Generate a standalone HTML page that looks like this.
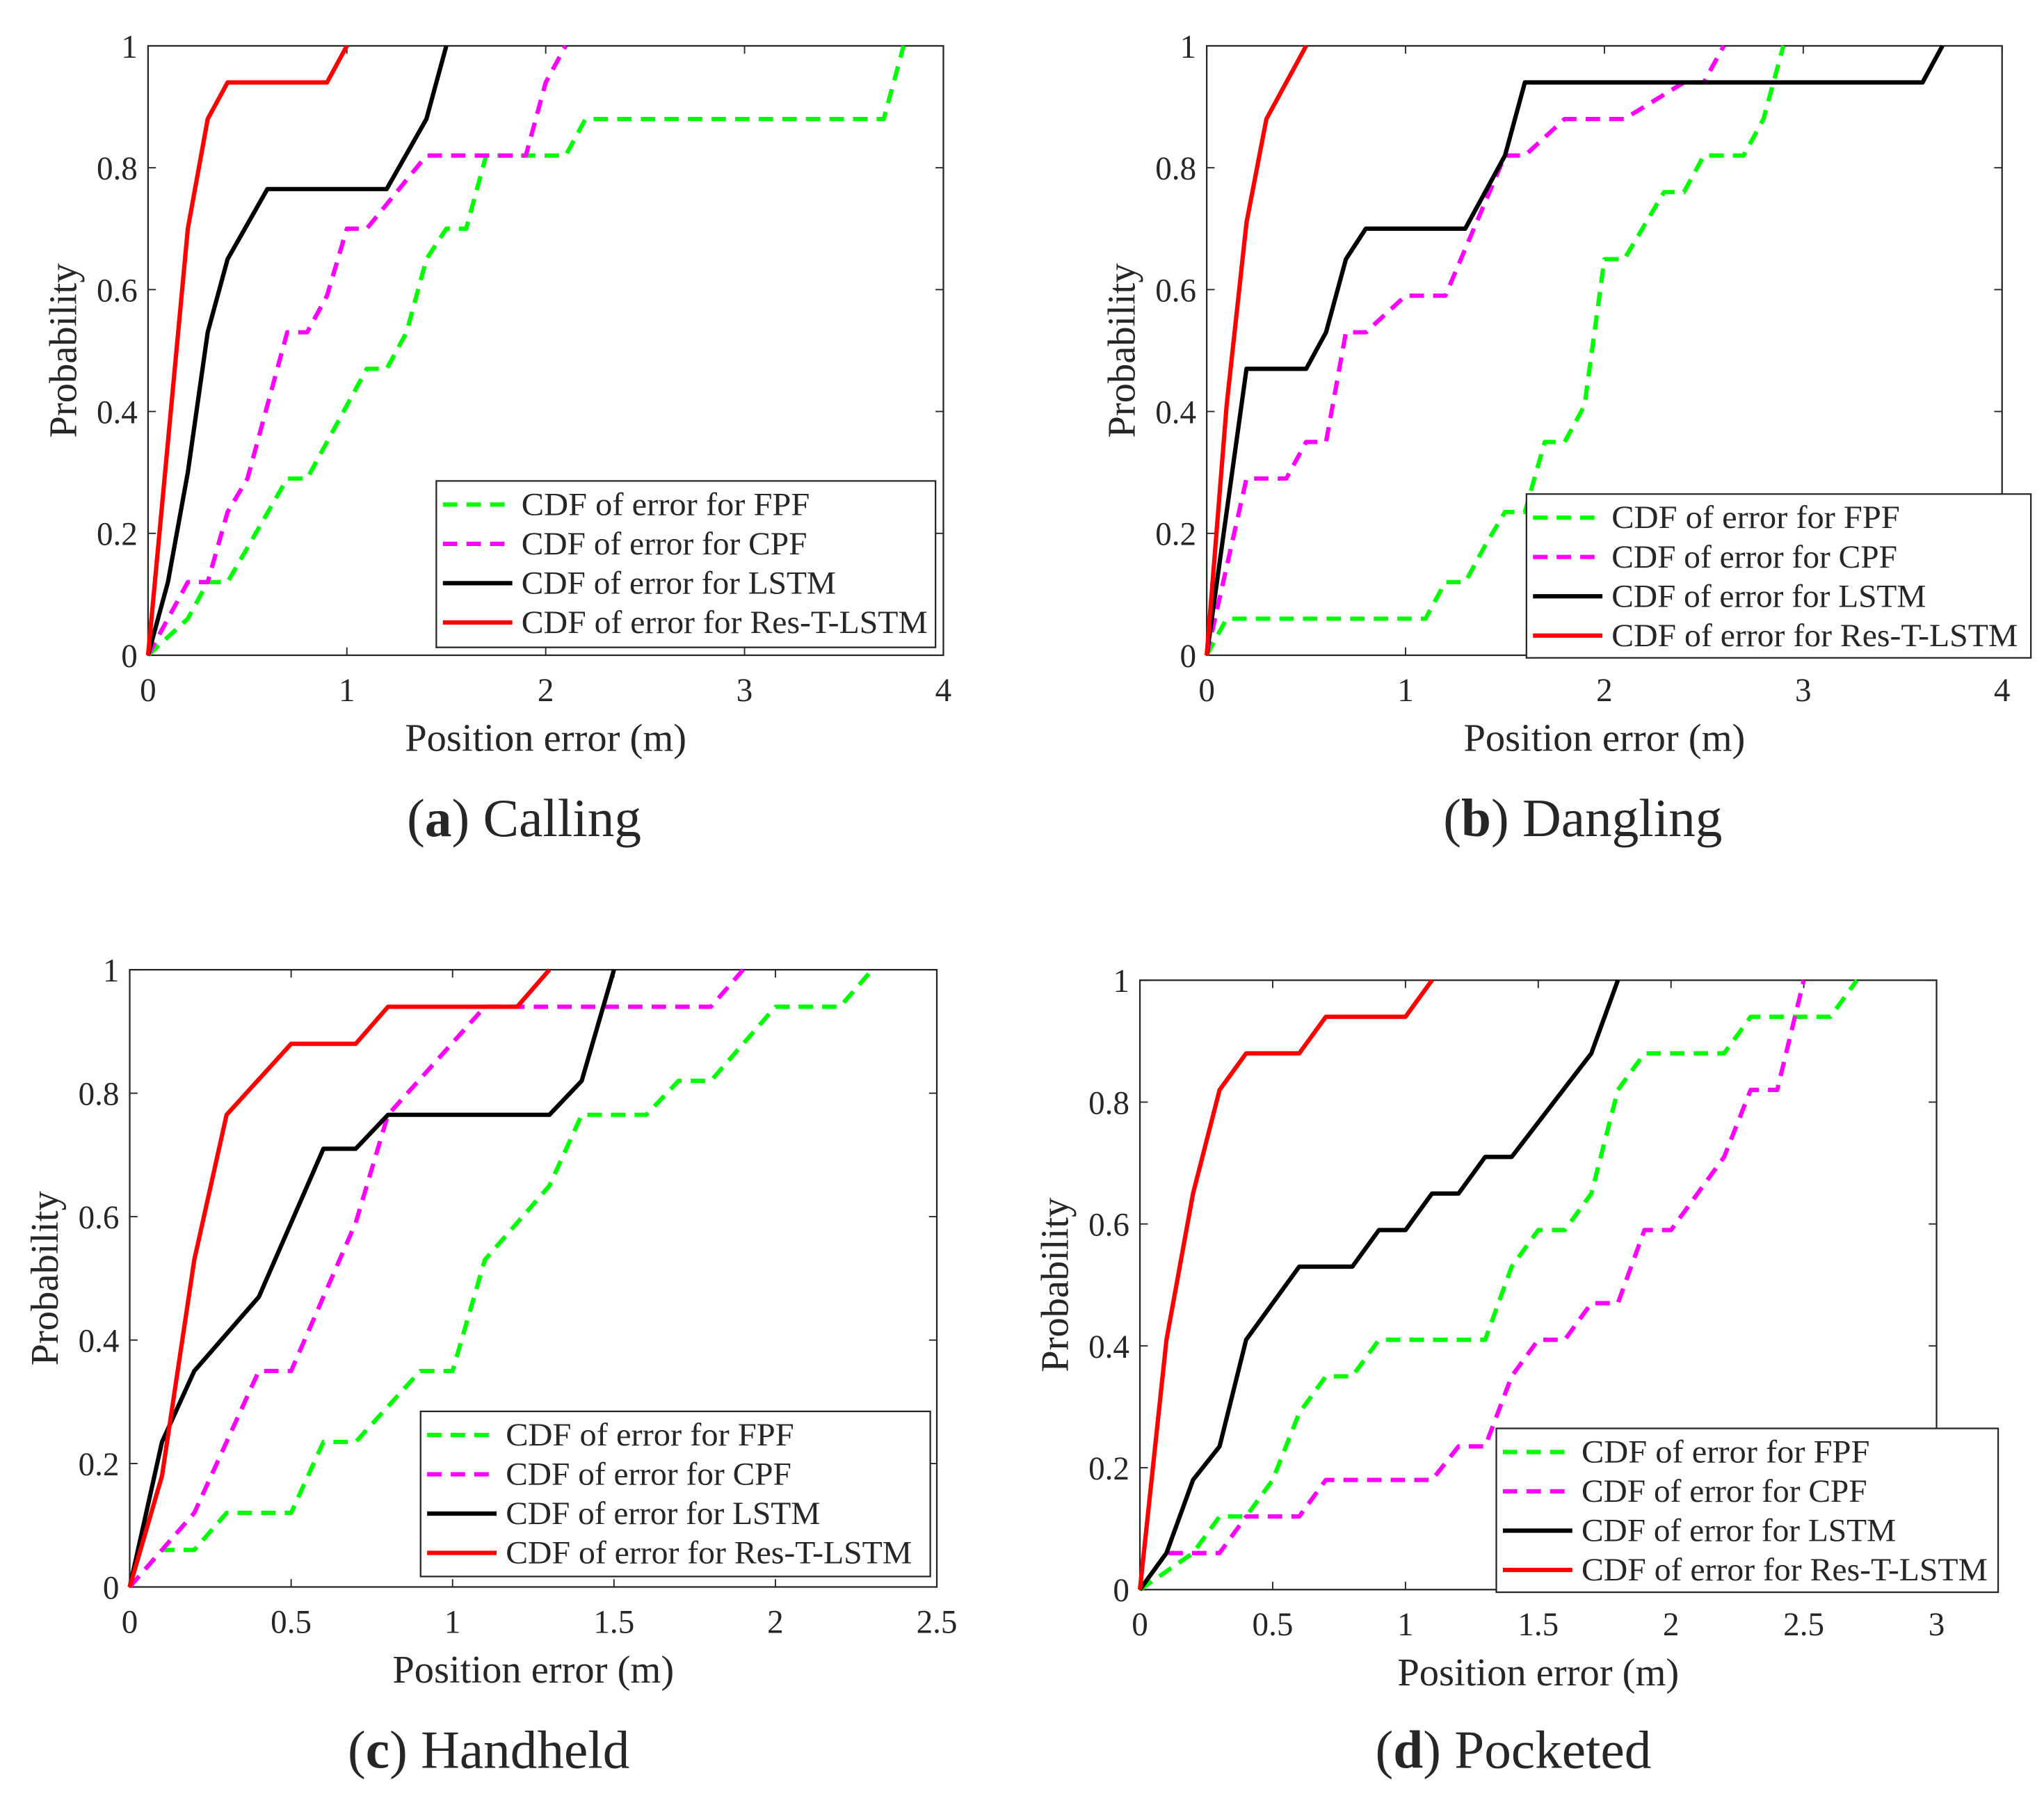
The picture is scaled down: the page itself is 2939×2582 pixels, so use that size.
<!DOCTYPE html>
<html><head><meta charset="utf-8"><style>
html,body{margin:0;padding:0;background:#fff}
svg{display:block}
text{font-family:"Liberation Serif",serif;fill:#262626}
</style></head><body>
<svg id="chart" width="2939" height="2582" viewBox="0 0 1560 1370.5" preserveAspectRatio="none" xmlns="http://www.w3.org/2000/svg"></svg>
<script>
const seriesNames=["CDF of error for FPF","CDF of error for CPF","CDF of error for LSTM","CDF of error for Res-T-LSTM"];
const seriesColors=["#00ff00","#ff00ff","#000000","#ff0000"];
const yTicks=[0,0.2,0.4,0.6,0.8,1];
const captionsBold=["a","b","c","d"];
const captionsText=["Calling","Dangling","Handheld","Pocketed"];
const xTicksA=[0,1,2,3,4];
const xTicksC=[0,0.5,1,1.5,2,2.5];
const xTicksD=[0,0.5,1,1.5,2,2.5,3];
// panel a
const aFPF=[[0,0],[0.2,0.06],[0.3,0.12],[0.4,0.12],[0.7,0.29],[0.8,0.29],[1.1,0.47],[1.2,0.47],[1.3,0.53],[1.4,0.65],[1.5,0.7],[1.6,0.7],[1.7,0.82],[2.1,0.82],[2.2,0.88],[3.7,0.88],[3.8,1]];
const aCPF=[[0,0],[0.2,0.12],[0.3,0.12],[0.4,0.235],[0.5,0.29],[0.7,0.53],[0.8,0.53],[0.9,0.59],[1.0,0.7],[1.1,0.7],[1.4,0.82],[1.9,0.82],[2.0,0.94],[2.1,1]];
const aLSTM=[[0,0],[0.1,0.12],[0.2,0.3],[0.3,0.53],[0.4,0.65],[0.6,0.765],[1.2,0.765],[1.4,0.88],[1.5,1]];
const aRes=[[0,0],[0.1,0.35],[0.2,0.7],[0.3,0.88],[0.4,0.94],[0.9,0.94],[1.0,1]];
// panel b
const bFPF=[[0,0],[0.1,0.06],[1.1,0.06],[1.2,0.12],[1.3,0.12],[1.4,0.18],[1.5,0.235],[1.6,0.235],[1.7,0.35],[1.8,0.35],[1.9,0.41],[2.0,0.65],[2.1,0.65],[2.3,0.76],[2.4,0.76],[2.5,0.82],[2.7,0.82],[2.8,0.88],[2.9,1]];
const bCPF=[[0,0],[0.2,0.29],[0.4,0.29],[0.5,0.35],[0.6,0.35],[0.7,0.53],[0.8,0.53],[1.0,0.59],[1.2,0.59],[1.5,0.82],[1.6,0.82],[1.8,0.88],[2.1,0.88],[2.4,0.94],[2.5,0.94],[2.6,1]];
const bLSTM=[[0,0],[0.2,0.47],[0.5,0.47],[0.6,0.53],[0.7,0.65],[0.8,0.7],[1.3,0.7],[1.5,0.82],[1.6,0.94],[3.6,0.94],[3.7,1]];
const bRes=[[0,0],[0.1,0.41],[0.2,0.71],[0.3,0.88],[0.5,1]];
// panel c
const cFPF=[[0,0],[0.1,0.06],[0.2,0.06],[0.3,0.12],[0.5,0.12],[0.6,0.235],[0.7,0.235],[0.9,0.35],[1.0,0.35],[1.1,0.53],[1.3,0.65],[1.4,0.765],[1.6,0.765],[1.7,0.82],[1.8,0.82],[2.0,0.94],[2.2,0.94],[2.3,1]];
const cCPF=[[0,0],[0.1,0.06],[0.2,0.12],[0.4,0.35],[0.5,0.35],[0.7,0.59],[0.8,0.765],[1.1,0.94],[1.8,0.94],[1.9,1]];
const cLSTM=[[0,0],[0.1,0.235],[0.2,0.35],[0.4,0.47],[0.6,0.71],[0.7,0.71],[0.8,0.765],[1.3,0.765],[1.4,0.82],[1.5,1]];
const cRes=[[0,0],[0.1,0.18],[0.2,0.53],[0.3,0.765],[0.5,0.88],[0.7,0.88],[0.8,0.94],[1.2,0.94],[1.3,1]];
// panel d
const dFPF=[[0,0],[0.2,0.06],[0.3,0.12],[0.4,0.12],[0.5,0.18],[0.6,0.29],[0.7,0.35],[0.8,0.35],[0.9,0.41],[1.3,0.41],[1.4,0.53],[1.5,0.59],[1.6,0.59],[1.7,0.65],[1.8,0.82],[1.9,0.88],[2.2,0.88],[2.3,0.94],[2.6,0.94],[2.7,1]];
const dCPF=[[0,0],[0.1,0.06],[0.3,0.06],[0.4,0.12],[0.6,0.12],[0.7,0.18],[1.1,0.18],[1.2,0.235],[1.3,0.235],[1.4,0.35],[1.5,0.41],[1.6,0.41],[1.7,0.47],[1.8,0.47],[1.9,0.59],[2.0,0.59],[2.2,0.71],[2.3,0.82],[2.4,0.82],[2.5,1]];
const dLSTM=[[0,0],[0.1,0.06],[0.2,0.18],[0.3,0.235],[0.4,0.41],[0.6,0.53],[0.8,0.53],[0.9,0.59],[1.0,0.59],[1.1,0.65],[1.2,0.65],[1.3,0.71],[1.4,0.71],[1.7,0.88],[1.8,1]];
const dRes=[[0,0],[0.1,0.41],[0.2,0.65],[0.3,0.82],[0.4,0.88],[0.6,0.88],[0.7,0.94],[1.0,0.94],[1.1,1]];

const NS="http://www.w3.org/2000/svg";
const svg=document.getElementById('chart');
function mk(tag,attrs,parent){const e=document.createElementNS(NS,tag);for(const k in attrs)e.setAttribute(k,attrs[k]);(parent||svg).appendChild(e);return e;}
const panels=[
 {id:'a',x0:113,x1:720,y0:35,y1:500,xmax:4,ticks:xTicksA,series:[aFPF,aCPF,aLSTM,aRes],leg:[333,367,381,127],cx:400,cy:625,ylx:48},
 {id:'b',x0:921,x1:1528,y0:35,y1:500,xmax:4,ticks:xTicksA,series:[bFPF,bCPF,bLSTM,bRes],leg:[1165,377,385,125],cx:1208,cy:625,ylx:856},
 {id:'c',x0:99,x1:715,y0:740,y1:1211,xmax:2.5,ticks:xTicksC,series:[cFPF,cCPF,cLSTM,cRes],leg:[321,1077,389,126],cx:373,cy:1336,ylx:34},
 {id:'d',x0:870,x1:1478,y0:748,y1:1213,xmax:3,ticks:xTicksD,series:[dFPF,dCPF,dLSTM,dRes],leg:[1142,1090,383,125],cx:1155,cy:1336,ylx:805}
];
panels.forEach((p,pi)=>{
 const g=mk('g',{});
 
 
 const sx=v=>p.x0+v/p.xmax*(p.x1-p.x0);
 const sy=v=>p.y1-v*(p.y1-p.y0);
 const box=mk('rect',{x:p.x0,y:p.y0,width:p.x1-p.x0,height:p.y1-p.y0,fill:'none',stroke:'#262626','stroke-width':1.2},g);
 
 
 p.ticks.forEach(t=>{
  mk('line',{x1:sx(t),x2:sx(t),y1:p.y1,y2:p.y1-6,stroke:'#262626'},g);
  mk('line',{x1:sx(t),x2:sx(t),y1:p.y0,y2:p.y0+6,stroke:'#262626'},g);
  const tx=mk('text',{x:sx(t),y:p.y1+35,'text-anchor':'middle','font-size':25},g);tx.textContent=String(t);
  
  
 });
 yTicks.forEach(t=>{
  mk('line',{x1:p.x0,x2:p.x0+6,y1:sy(t),y2:sy(t),stroke:'#262626'},g);
  mk('line',{x1:p.x1,x2:p.x1-6,y1:sy(t),y2:sy(t),stroke:'#262626'},g);
  const tx=mk('text',{x:p.x0-8,y:sy(t)+9,'text-anchor':'end','font-size':25},g);tx.textContent=String(t);
  
  
 });
 const xl=mk('text',{x:(p.x0+p.x1)/2,y:p.y1+73,'text-anchor':'middle','font-size':30},g);xl.textContent='Position error (m)';
 
 
 const yl=mk('text',{x:0,y:0,'text-anchor':'middle','font-size':30,transform:`translate(${p.ylx+10},${(p.y0+p.y1)/2}) rotate(-90)`},g);yl.textContent='Probability';
 
 
 p.series.forEach((s,si)=>{
  const pl=mk('polyline',{points:s.map(q=>sx(q[0])+','+sy(q[1])).join(' '),fill:'none',stroke:seriesColors[si],'stroke-width':3.3,'stroke-dasharray':si<2?'11,7':'none','stroke-linejoin':'round'},g);
  
  
 });
 const [lx,ly,lw,lh]=p.leg;
 const lg=mk('g',{},g);
 
 
 mk('rect',{x:lx,y:ly,width:lw,height:lh,fill:'#fff',stroke:'#262626','stroke-width':1.2},lg);
 seriesNames.forEach((n,si)=>{
  const yy=ly+18+si*30;
  mk('line',{x1:lx+5,x2:lx+58,y1:yy,y2:yy,stroke:seriesColors[si],'stroke-width':3.3,'stroke-dasharray':si<2?'11,7':'none'},lg);
  const t=mk('text',{x:lx+65,y:yy+8,'font-size':24.5,textLength:si==3?310:(si==2?240:(si==1?218:220)),lengthAdjust:'spacingAndGlyphs'},lg);t.textContent=n;
  
  
 });
 const cap=mk('text',{x:p.cx,y:p.cy+13,'text-anchor':'middle','font-size':41},g);
 
 
 const t1=mk('tspan',{},cap);t1.textContent='(';
 const t2=mk('tspan',{'font-weight':'bold'},cap);t2.textContent=captionsBold[pi];
 const t3=mk('tspan',{},cap);t3.textContent=') '+captionsText[pi];
});
</script>
</body></html>
